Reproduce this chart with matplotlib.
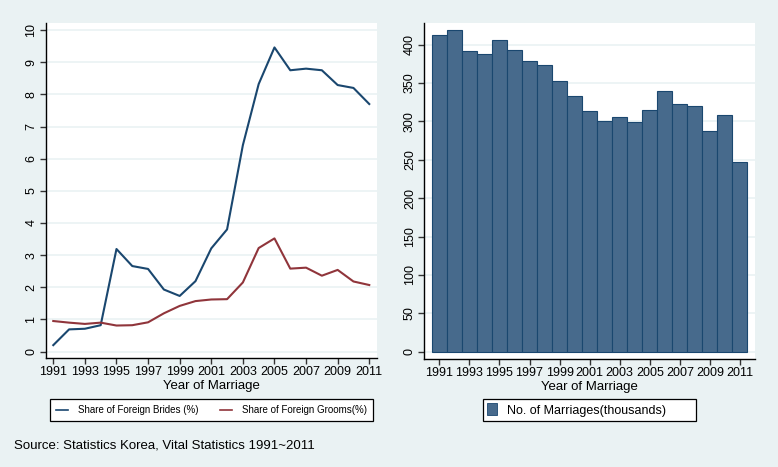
import matplotlib
matplotlib.use("Agg")
import matplotlib.pyplot as plt
from matplotlib.lines import Line2D
from matplotlib.patches import Patch

plt.rcParams['font.family'] = ['Liberation Sans', 'DejaVu Sans']

years = list(range(1991, 2012))
brides = [0.20, 0.69, 0.71, 0.82, 3.19, 2.66, 2.57, 1.93, 1.73, 2.19, 3.21,
          3.80, 6.42, 8.32, 9.46, 8.75, 8.80, 8.75, 8.29, 8.20, 7.70]
grooms = [0.95, 0.90, 0.86, 0.90, 0.81, 0.82, 0.91, 1.19, 1.42, 1.57, 1.62,
          1.63, 2.15, 3.22, 3.52, 2.58, 2.61, 2.36, 2.54, 2.18, 2.07]
marriages = [412, 419, 392, 388, 406, 393, 379, 373, 353, 333, 313,
             300, 306, 299, 315, 340, 323, 320, 288, 308, 247]
xticks = list(range(1991, 2012, 2))
left_yticks = list(range(0, 11))
right_yticks = list(range(0, 401, 50))

BG = '#eaf2f3'
NAVY = '#1a476f'
MAROON = '#90353b'
BARC = '#476a8c'

W, H = 778, 467
fig = plt.figure(figsize=(W / 100, H / 100), dpi=100, facecolor=BG)


def px_axes(x0, y0, x1, y1):
    return fig.add_axes([x0 / W, 1 - y1 / H, (x1 - x0) / W, (y1 - y0) / H])


def style(ax):
    ax.set_facecolor('white')
    for s in ['top', 'right']:
        ax.spines[s].set_visible(False)
    for s in ['left', 'bottom']:
        ax.spines[s].set_color('black')
        ax.spines[s].set_linewidth(1.0)
    ax.tick_params(axis='both', direction='out', length=4, width=1,
                   color='#333333', labelsize=9, labelcolor='black', pad=2)
    ax.grid(axis='y', color=BG, linewidth=1.2)
    ax.set_axisbelow(True)
    for lab in ax.get_yticklabels():
        lab.set_rotation(90)
        lab.set_va('center')
    ax.set_xlabel('Year of Marriage', fontsize=9.5, labelpad=1)


# Left panel
ax1 = px_axes(45.7, 23, 377, 358)
ax1.plot(years, brides, color=NAVY, linewidth=1.5)
ax1.plot(years, grooms, color=MAROON, linewidth=1.5)
ax1.set_xlim(1990.52, 2011.49)
ax1.set_ylim(-0.2, 10.22)
ax1.set_xticks(xticks)
ax1.set_yticks(left_yticks)
style(ax1)

# Right panel
ax2 = px_axes(424.3, 23, 755, 359)
ax2.bar(years, marriages, width=1.0, color=BARC, edgecolor=NAVY, linewidth=0.8)
ax2.set_xlim(1990, 2012)
ax2.set_ylim(-9.5, 428)
ax2.set_xticks(xticks)
ax2.set_yticks(right_yticks)
style(ax2)

# Legends
h1 = [Line2D([], [], color=NAVY, linewidth=1.2),
      Line2D([], [], color=MAROON, linewidth=1.2)]
leg1 = fig.legend(h1, ['Share of Foreign Brides (%)', 'Share of Foreign Grooms(%)'],
                  loc='lower left', ncol=2, mode='expand',
                  bbox_to_anchor=(50 / W, 1 - 421 / H, (373 - 50) / W, 23 / H),
                  borderaxespad=0, fontsize=7, handlelength=1.3, handletextpad=1.0,
                  fancybox=False, framealpha=1, edgecolor='black',
                  borderpad=0.6, columnspacing=2.0)
leg1.get_frame().set_linewidth(0.9)

h2 = [Patch(facecolor=BARC, edgecolor=NAVY, linewidth=0.6)]
leg2 = fig.legend(h2, ['No. of Marriages(thousands)'], loc='lower left',
                  mode='expand',
                  bbox_to_anchor=(483 / W, 1 - 421 / H, (696 - 483) / W, 23 / H),
                  borderaxespad=0, fontsize=9, handlelength=0.8, handleheight=1.1,
                  handletextpad=0.8, fancybox=False, framealpha=1,
                  edgecolor='black', borderpad=0.35)
leg2.get_frame().set_linewidth(0.9)

fig.text(14 / W, 1 - 446 / H, 'Source: Statistics Korea, Vital Statistics 1991~2011',
         fontsize=9.5, va='center', ha='left')

fig.savefig('out.png', dpi=100, facecolor=BG)
